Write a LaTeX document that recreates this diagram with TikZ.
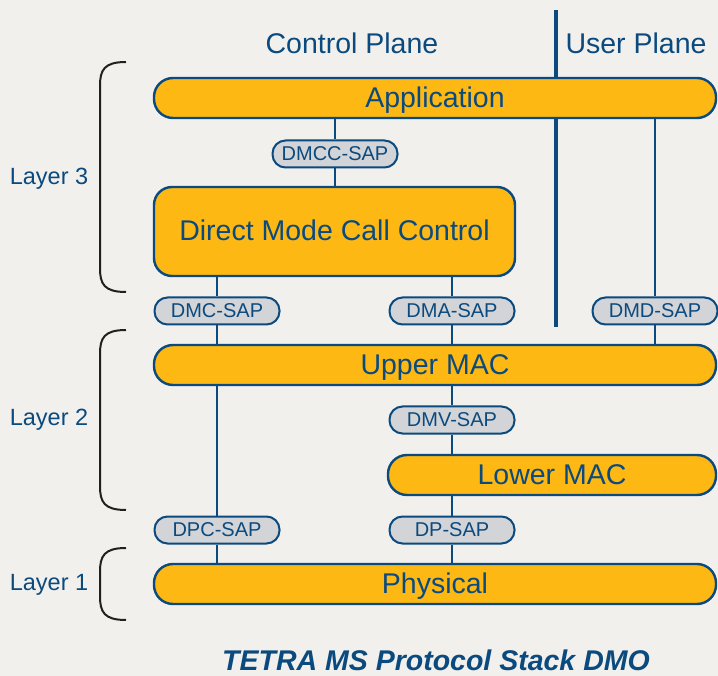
\documentclass[tikz,border=0pt]{standalone}
\usepackage{fontspec}
\setmainfont{Liberation Sans}
\usetikzlibrary{positioning}
\definecolor{bgcol}{HTML}{F1F0EC}
\definecolor{stackorange}{HTML}{FDB813}
\definecolor{stackblue}{HTML}{0B4A7E}
\definecolor{sapgrey}{HTML}{D2D4D7}
\definecolor{bracecol}{HTML}{231F20}
\begin{document}
\begin{tikzpicture}[x=1pt, y=-1pt, inner sep=0pt, text depth=0pt,
		layerbox/.style={draw=stackblue, fill=stackorange, line width=2.4pt, rounded corners=19pt,
			minimum height=40pt, text=stackblue, font=\fontsize{28.5}{32}\selectfont, text height=18.5pt},
		sapbox/.style={draw=stackblue, fill=sapgrey, line width=2pt, rounded corners=13pt,
			minimum width=125pt, minimum height=27pt, text=stackblue, font=\fontsize{20}{24}\selectfont, text height=13pt},
		linkstyle/.style={draw=stackblue, line width=1.8pt},
		planelabel/.style={text=stackblue, font=\fontsize{28.5}{32}\selectfont, text height=18.5pt},
		layerlabel/.style={text=stackblue, font=\fontsize{23.5}{27}\selectfont, text height=15.3pt},
		bracestyle/.style={draw=bracecol, line width=2pt}]
		\useasboundingbox (0,0) rectangle (718,676);
		\fill [bgcol] (0,0) rectangle (718,676);

		% plane separator
		\coordinate (septop) at (556,10);
		\coordinate (sepbot) at (556,327);
		\draw [draw=stackblue, line width=4pt] (septop) -- (sepbot);
		\node [planelabel] (ctrl) at (352,44) {Control Plane};
		\node [planelabel] (user) at (636,44) {User Plane};

		% layers
		\node [layerbox, minimum width=562pt] (app) at (435,98) {Application};
		\node [layerbox, minimum width=361pt, minimum height=89pt, rounded corners=18pt] (dmcc) at (334.5,231.5) {Direct Mode Call Control};
		\node [layerbox, minimum width=562pt] (umac) at (435,365) {Upper MAC};
		\node [layerbox, minimum width=328pt] (lmac) at (552,475) {Lower MAC};
		\node [layerbox, minimum width=562pt] (phy) at (435,584) {Physical};

		% service access points
		\node [sapbox] (dmccsap) at (335,154) {DMCC-SAP};
		\node [sapbox] (dmcsap) at (217,311) {DMC-SAP};
		\node [sapbox] (dmasap) at (452,311) {DMA-SAP};
		\node [sapbox] (dmdsap) at (655,311) {DMD-SAP};
		\node [sapbox] (dmvsap) at (452,420) {DMV-SAP};
		\node [sapbox] (dpcsap) at (217,530) {DPC-SAP};
		\node [sapbox] (dpsap) at (452,530) {DP-SAP};

		\draw [linkstyle] (app.south -| dmccsap) -- (dmccsap);
		\draw [linkstyle] (dmccsap) -- (dmcc.north -| dmccsap);
		\draw [linkstyle] (dmcc.south -| dmcsap) -- (dmcsap);
		\draw [linkstyle] (dmcc.south -| dmasap) -- (dmasap);
		\draw [linkstyle] (app.south -| dmdsap) -- (dmdsap);
		\foreach \s in {dmcsap, dmasap, dmdsap}
			\draw [linkstyle] (\s) -- (umac.north -| \s);
		\draw [linkstyle] (umac.south -| dpcsap) -- (dpcsap);
		\draw [linkstyle] (umac.south -| dmvsap) -- (dmvsap);
		\draw [linkstyle] (dmvsap) -- (lmac.north -| dmvsap);
		\draw [linkstyle] (lmac.south -| dpsap) -- (dpsap);
		\foreach \s in {dpcsap, dpsap}
			\draw [linkstyle] (\s) -- (phy.north -| \s);

		% layer braces
		\foreach \t/\b in {62/292, 330/510, 548/620}
			\draw [bracestyle] (126,\t) .. controls (104,\t) and (100,\t+8) .. (100,\t+24)
				-- (100,\b-24) .. controls (100,\b-8) and (104,\b) .. (126,\b);
		\node [layerlabel] (l3) at (49,177) {Layer 3};
		\node [layerlabel] (l2) at (49,418) {Layer 2};
		\node [layerlabel] (l1) at (49,583) {Layer 1};

		\node [text=stackblue, font=\fontsize{28.5}{32}\selectfont\bfseries\itshape, text height=18.5pt] (title) at (436,661) {TETRA MS Protocol Stack DMO};
\end{tikzpicture}
\end{document}
